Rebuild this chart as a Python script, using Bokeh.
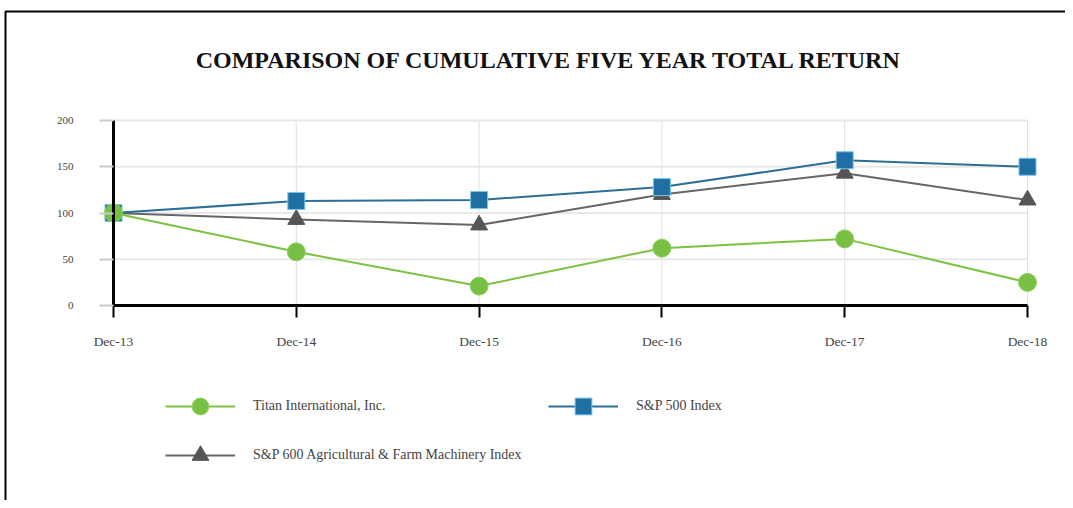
from bokeh.plotting import figure
from bokeh.models import (Range1d, FixedTicker, Label, Legend, LegendItem,
                          BoxAnnotation, LinearAxis)
from bokeh.embed import file_html
from bokeh.resources import INLINE

# ---- data ----
dates = ["Dec-13", "Dec-14", "Dec-15", "Dec-16", "Dec-17", "Dec-18"]
titan = [100, 58, 21, 62, 72, 25]
sp500 = [100, 113, 114, 128, 157, 150]
sp600_ag = [100, 93, 87, 120, 143, 114]
y_ticks = [0, 50, 100, 150, 200]
title_text = "COMPARISON OF CUMULATIVE FIVE YEAR TOTAL RETURN"
names = ["Titan International, Inc.", "S&P 500 Index",
         "S&P 600 Agricultural & Farm Machinery Index"]

SERIF = "Liberation Serif"
W, H = 1065, 500
# plot-area placement in canvas px (x of first/last date, y of axis min/max)
PX0, PX1, PY0, PY1 = 113, 1027, 305, 120

xs = list(range(len(dates)))
xmin, xmax = xs[0], xs[-1]
ymin, ymax = y_ticks[0], y_ticks[-1]
ux = (PX1 - PX0) / (xmax - xmin)
uy = (PY0 - PY1) / (ymax - ymin)
x_range = Range1d(xmin - PX0 / ux, xmax + (W - PX1) / ux)
y_range = Range1d(ymin - (H - PY0) / uy, ymax + PY1 / uy)

p = figure(width=W, height=H, output_backend="svg", toolbar_location=None,
           x_range=x_range, y_range=y_range,
           x_axis_location=None, y_axis_location=None, min_border=0)
p.outline_line_color = None
p.xgrid.visible = False
p.ygrid.visible = False
p.background_fill_color = "white"
p.border_fill_color = "white"

# grid lines (limited to the plotting area)
p.segment(x0=xs[1:], x1=xs[1:], y0=[ymin] * (len(xs) - 1), y1=[ymax] * (len(xs) - 1),
          line_color="#e0e0e0", line_width=1)
p.segment(x0=[xmin] * (len(y_ticks) - 1), x1=[xmax] * (len(y_ticks) - 1),
          y0=y_ticks[1:], y1=y_ticks[1:], line_color="#e8e8e8", line_width=2)

# axes
xaxis = LinearAxis(fixed_location=ymin, bounds=(xmin, xmax),
                   ticker=FixedTicker(ticks=xs),
                   major_label_overrides={i: d for i, d in enumerate(dates)})
xaxis.axis_line_color = "black"
xaxis.axis_line_width = 3
xaxis.major_tick_line_color = "black"
xaxis.major_tick_line_width = 2
xaxis.major_tick_out = 12
xaxis.major_tick_in = 0
xaxis.minor_tick_line_color = None
xaxis.major_label_standoff = 16
xaxis.major_label_text_font = SERIF
xaxis.major_label_text_font_size = "13.5px"
xaxis.major_label_text_color = "#444444"
p.add_layout(xaxis, "below")

yaxis = LinearAxis(fixed_location=xmin, bounds=(ymin, ymax),
                   ticker=FixedTicker(ticks=y_ticks))
yaxis.axis_line_color = "black"
yaxis.axis_line_width = 3
yaxis.major_tick_line_color = "#cccccc"
yaxis.major_tick_line_width = 2
yaxis.major_tick_out = 14
yaxis.major_tick_in = 0
yaxis.minor_tick_line_color = None
yaxis.major_label_standoff = 26
yaxis.major_label_text_font = SERIF
yaxis.major_label_text_font_size = "11px"
yaxis.major_label_text_color = "#444444"
p.add_layout(yaxis, "left")

# series (drawn gray, blue, green so green sits on top)
g_line = p.line(xs, sp600_ag, line_color="#666666", line_width=2)
g_mark = p.scatter(xs, sp600_ag, marker="triangle", size=17,
                   fill_color="#555555", line_color="#555555")
b_line = p.line(xs, sp500, line_color="#2d6e96", line_width=2)
b_mark = p.scatter(xs, sp500, marker="square", size=17,
                   fill_color="#1f6fa3", line_color="#7cc4ea", line_width=1)
t_line = p.line(xs, titan, line_color="#7dc242", line_width=2)
t_mark = p.scatter(xs, titan, marker="circle", size=18,
                   fill_color="#78c043", line_color="#8fd05e", line_width=1)

# title (screen units: from canvas left / bottom)
p.add_layout(Label(x=549, y=H - 59, x_units="screen", y_units="screen",
                   text=title_text, text_font=SERIF, text_font_style="bold",
                   text_font_size="24px", text_color="#111111",
                   text_align="center", text_baseline="middle"))

# legends
GH = 42
def make_legend(label, rends, px, py_center):
    lg = Legend(items=[LegendItem(label=label, renderers=rends)],
                location=(px, H - (py_center + GH / 2)),
                glyph_width=70, glyph_height=GH, label_height=GH,
                label_standoff=18, padding=0, margin=0, spacing=0,
                border_line_color=None, background_fill_alpha=0,
                label_text_font=SERIF, label_text_font_size="14px",
                label_text_color="#444444", label_text_baseline="middle")
    p.add_layout(lg, "center")

make_legend(names[0], [t_line, t_mark], 165, 406)
make_legend(names[1], [b_line, b_mark], 548, 406)
make_legend(names[2], [g_line, g_mark], 165, 455)

# outer frame border (top and left visible)
p.add_layout(BoxAnnotation(left=5, right=W + 50, top=H - 11, bottom=-50,
                           left_units="screen", right_units="screen",
                           top_units="screen", bottom_units="screen",
                           fill_color=None, fill_alpha=0,
                           line_color="black", line_alpha=1, line_width=2))

open("out.html", "w").write(file_html(p, INLINE))
